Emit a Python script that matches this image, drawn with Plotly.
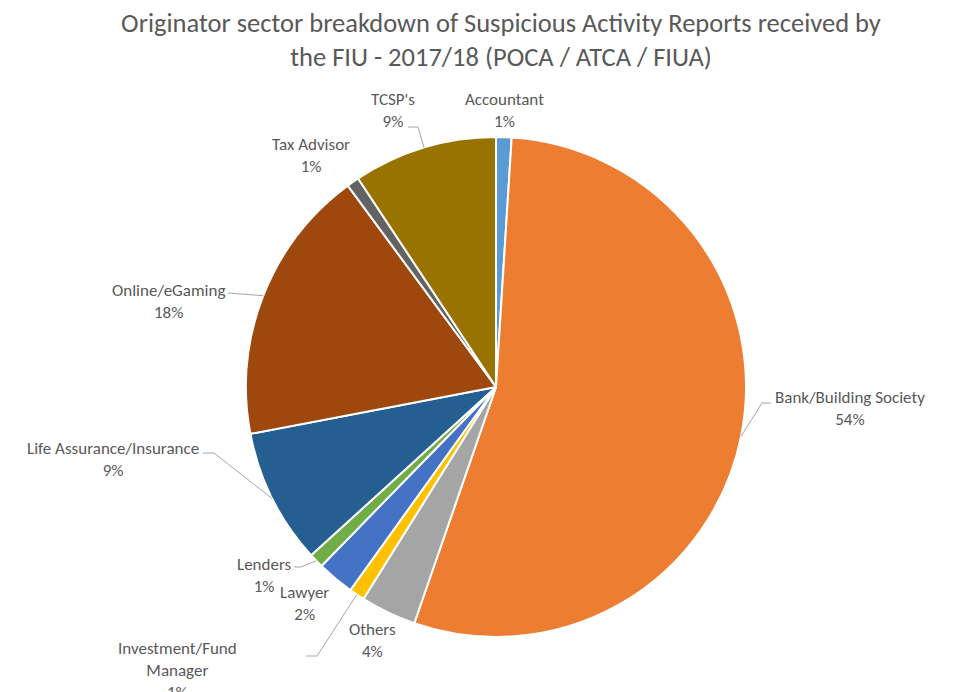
import math
import plotly.graph_objects as go

# Sector shares of SARs received (percent of total), clockwise from 12 o'clock
sectors = [
    "Accountant",
    "Bank/Building Society",
    "Others",
    "Investment/Fund<br>Manager",
    "Lawyer",
    "Lenders",
    "Life Assurance/Insurance",
    "Online/eGaming",
    "Tax Advisor",
    "TCSP's",
]
shares = [1.0, 54.3, 3.6, 1.0, 2.4, 0.95, 8.75, 17.9, 0.8, 9.3]
colors = [
    "#5B9BD5", "#ED7D31", "#A5A5A5", "#FFC000", "#4472C4",
    "#70AD47", "#255E91", "#9E480E", "#636363", "#997300",
]

W, H = 971, 692
CX, CY, R = 496, 387, 250  # pie centre and radius in pixels

# label centre (px) and optional leader elbow (px) for each sector
label_pos = [
    (504, 111), (850, 408), (372, 640), (177, 670), (304, 603),
    (264, 575), (113, 460), (168, 301), (311, 155), (393, 111),
]
leader_elbow = [
    None, [(771, 403), (762, 403)], None, [(306, 656), (317, 656)], None,
    [(294, 567), (301, 567)], [(203, 453), (214, 453)], [(228, 293)], None,
    [(408, 127), (418, 127)],
]

FONT = "Carlito, Lato, sans-serif"
GREY = "#595959"


def px(x, y):
    return x / W, 1 - y / H


fig = go.Figure(
    go.Pie(
        labels=[s.replace("<br>", " ") for s in sectors],
        values=shares,
        sort=False,
        direction="clockwise",
        rotation=0,
        marker=dict(colors=colors, line=dict(color="white", width=2)),
        textinfo="none",
        hovertemplate="%{label}: %{percent}<extra></extra>",
        domain=dict(x=[(CX - R) / W, (CX + R) / W], y=[1 - (CY + R) / H, 1 - (CY - R) / H]),
        showlegend=False,
    )
)

total = sum(shares)
annotations = []
shapes = []
cum = 0.0
for name, v, (lx, ly), elbow in zip(sectors, shares, label_pos, leader_elbow):
    mid = (cum + v / 2) / total * 2 * math.pi
    cum += v
    pct = f"{v / total * 100:.0f}%"
    x, y = px(lx, ly)
    annotations.append(
        dict(
            x=x, y=y, xref="paper", yref="paper", text=f"{name}<br>{pct}",
            showarrow=False, xanchor="center", yanchor="middle",
            font=dict(family=FONT, size=17, color=GREY),
        )
    )
    if elbow:
        ex, ey = CX + R * math.sin(mid), CY - R * math.cos(mid)
        pts = [px(a, b) for a, b in elbow] + [px(ex, ey)]
        path = "M " + " L ".join(f"{a},{b}" for a, b in pts)
        shapes.append(
            dict(type="path", path=path, xref="paper", yref="paper",
                 line=dict(color="#A6A6A6", width=1))
        )

fig.update_layout(
    width=W,
    height=H,
    margin=dict(l=0, r=0, t=0, b=0),
    paper_bgcolor="white",
    plot_bgcolor="white",
    title=dict(
        text="Originator sector breakdown of Suspicious Activity Reports received by<br>the FIU - 2017/18 (POCA / ATCA / FIUA)",
        x=501 / W, xanchor="center", y=1 - 32 / H, yanchor="middle",
        font=dict(family=FONT, size=26.5, color=GREY),
    ),
    annotations=annotations,
    shapes=shapes,
)

fig.write_html("out.html")
